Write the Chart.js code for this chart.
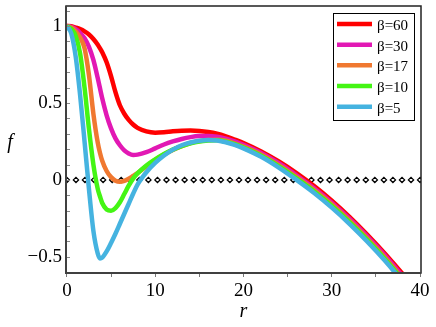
<!DOCTYPE html>
<html><head><meta charset="utf-8">
<script src="https://cdn.jsdelivr.net/npm/chart.js@4/dist/chart.umd.min.js"></script>
<style>html,body{margin:0;padding:0;background:#fff;overflow:hidden}</style>
</head><body>
<canvas id="c" width="436" height="327"></canvas>
<script>
// ---- data ----
const rValues = [0,0.5,1,1.5,2,2.5,3,3.5,3.75,4,4.5,5,5.5,6,6.5,7,7.5,8,9,10,11,12,13,14,15,16,17,18,19,20,22,24,26,28,30,32,34,36,38,39];
const fBeta60 = [1,0.998,0.99,0.98,0.965,0.945,0.915,0.878,0.855,0.83,0.765,0.675,0.57,0.485,0.43,0.39,0.36,0.338,0.315,0.307,0.31,0.316,0.32,0.321,0.318,0.311,0.3,0.283,0.262,0.24,0.185,0.12,0.045,-0.04,-0.135,-0.24,-0.355,-0.478,-0.61,-0.68];
const fBeta30 = [1,0.995,0.98,0.955,0.92,0.865,0.78,0.66,0.595,0.53,0.42,0.335,0.27,0.225,0.192,0.172,0.162,0.164,0.18,0.205,0.23,0.25,0.266,0.278,0.285,0.286,0.281,0.268,0.25,0.228,0.175,0.108,0.03,-0.055,-0.148,-0.252,-0.367,-0.49,-0.625,-0.695];
const fBeta17 = [1,0.99,0.965,0.925,0.855,0.68,0.43,0.24,0.175,0.125,0.058,0.018,-0.005,-0.012,-0.006,0.008,0.026,0.045,0.088,0.13,0.165,0.195,0.22,0.24,0.252,0.26,0.261,0.254,0.237,0.216,0.164,0.096,0.018,-0.066,-0.16,-0.265,-0.38,-0.504,-0.64,-0.71];
const fBeta10 = [1,0.98,0.935,0.82,0.6,0.33,0.1,-0.06,-0.108,-0.15,-0.192,-0.2,-0.183,-0.145,-0.092,-0.038,0.008,0.042,0.093,0.133,0.168,0.197,0.22,0.238,0.25,0.256,0.258,0.248,0.232,0.21,0.157,0.088,0.01,-0.075,-0.17,-0.275,-0.39,-0.514,-0.65,-0.72];
const fBeta5  = [1,0.95,0.8,0.55,0.25,-0.06,-0.33,-0.48,-0.51,-0.505,-0.465,-0.41,-0.35,-0.285,-0.22,-0.155,-0.09,-0.03,0.05,0.11,0.158,0.197,0.225,0.243,0.254,0.259,0.256,0.245,0.228,0.205,0.15,0.08,0.0,-0.085,-0.18,-0.285,-0.4,-0.524,-0.66,-0.73];
const seriesLabels = ['β=60','β=30','β=17','β=10','β=5'];
const zeroLineR = [0,1.03,2.05,3.08,4.10,5.13,6.15,7.18,8.21,9.23,10.26,11.28,12.31,13.33,14.36,15.38,16.41,17.44,18.46,19.49,20.51,21.54,22.56,23.59,24.62,25.64,26.67,27.69,28.72,29.74,30.77,31.79,32.82,33.85,34.87,35.90,36.92,37.95,38.97,40];
const xTickValues = [0,5,10,15,20,25,30,35,40];
const xTickLabels = ['0','','10','','20','','30','','40'];
const yTickValues = [-0.5,0,0.5,1];
const yTickLabels = ['\u22120.5','0','0.5','1'];
const yMinorTicks = [-0.6,-0.5,-0.4,-0.3,-0.2,-0.1,0,0.1,0.2,0.3,0.4,0.5,0.6,0.7,0.8,0.9,1,1.1];

const colors = ['#ff0000','#e218b4','#f07830','#44f514','#45b3e0'];
const serif = "'Liberation Serif','Times New Roman',serif";

const seriesValues = [fBeta60,fBeta30,fBeta17,fBeta10,fBeta5];
const datasets = seriesValues.map((vals,i)=>({
  label: seriesLabels[i],
  data: rValues.map((r,j)=>({x:r,y:vals[j]})),
  showLine: true,
  borderColor: colors[i],
  backgroundColor: colors[i],
  borderWidth: 4.5,
  pointRadius: 0,
  fill: false,
  cubicInterpolationMode: 'monotone',
  order: 5 - i
}));
datasets.push({
  label: '',
  data: zeroLineR.map(r=>({x:r,y:0})),
  showLine: false,
  pointStyle: 'rectRot',
  pointRadius: 2.6,
  pointBackgroundColor: '#fff',
  pointBorderColor: '#000',
  pointBorderWidth: 1.3,
  order: 10
});

const decor = {
  id: 'decor',
  afterDatasetsDraw(chart){
    const ctx = chart.ctx, a = chart.chartArea, ys = chart.scales.y;
    ctx.save();
    ctx.strokeStyle = '#888'; ctx.lineWidth = 1;
    yMinorTicks.forEach(v=>{
      const p = Math.round(ys.getPixelForValue(v))+0.5;
      ctx.beginPath(); ctx.moveTo(a.left, p); ctx.lineTo(a.left+4, p); ctx.stroke();
    });
    ctx.strokeStyle = '#222'; ctx.lineWidth = 1.5;
    ctx.strokeRect(a.left, a.top, a.right-a.left, a.bottom-a.top);
    ctx.strokeStyle = '#404040'; ctx.lineWidth = 2;
    ctx.beginPath(); ctx.moveTo(a.left, a.top); ctx.lineTo(a.left, a.bottom); ctx.lineTo(a.right, a.bottom); ctx.stroke();
    ctx.fillStyle = '#000'; ctx.font = "italic 20px " + serif;
    ctx.textAlign = 'center'; ctx.textBaseline = 'middle';
    ctx.fillText('f', 10, 143);
    const bx = 333, by = 13, bw = 81, bh = 107;
    ctx.fillStyle = '#fff'; ctx.fillRect(bx, by, bw, bh);
    ctx.strokeStyle = '#000'; ctx.lineWidth = 1;
    ctx.strokeRect(bx+0.5, by+0.5, bw, bh);
    const rowY = [24, 44.7, 65.3, 86, 106.7];
    ctx.font = "15px " + serif; ctx.textAlign = 'left'; ctx.textBaseline = 'middle';
    for (let i=0;i<5;i++){
      const ds = chart.data.datasets[i];
      ctx.strokeStyle = ds.borderColor; ctx.lineWidth = 4.5;
      ctx.beginPath(); ctx.moveTo(337, rowY[i]); ctx.lineTo(372, rowY[i]); ctx.stroke();
      ctx.fillStyle = '#000';
      ctx.fillText(ds.label, 377, rowY[i]+2);
    }
    ctx.restore();
  }
};

new Chart(document.getElementById('c'), {
  type: 'scatter',
  data: { datasets },
  options: {
    responsive: false, animation: false,
    layout: { padding: { left: 0, right: 15, top: 6, bottom: 0 } },
    plugins: { legend: { display: false }, tooltip: { enabled: false } },
    scales: {
      x: {
        type: 'linear', min: -0.1, max: 40.1,
        afterBuildTicks: s => { s.ticks = xTickValues.map(v=>({value:v})); },
        afterFit: s => { s.height = 54; s.paddingLeft = 0; s.paddingRight = 0; },
        ticks: { autoSkip: false, maxRotation: 0, padding: 3, color: '#000',
          font: { family: serif, size: 19 },
          callback: v => { const k = xTickValues.indexOf(v); return k >= 0 ? xTickLabels[k] : ''; } },
        grid: { drawOnChartArea: false, drawTicks: true, tickLength: 4, color: '#777', lineWidth: 1 },
        border: { display: false },
        title: { display: true, text: 'r', color: '#000', font: { family: serif, size: 20, style: 'italic' }, padding: { top: 0, bottom: 3 } }
      },
      y: {
        type: 'linear', min: -0.605, max: 1.13,
        afterBuildTicks: s => { s.ticks = yTickValues.map(v=>({value:v})); },
        afterFit: s => { s.width = 66; s.paddingTop = 0; s.paddingBottom = 0; },
        ticks: { autoSkip: false, padding: 4, color: '#000',
          font: { family: serif, size: 19 },
          callback: v => { const k = yTickValues.indexOf(v); return k >= 0 ? yTickLabels[k] : ''; } },
        grid: { display: false, drawTicks: false },
        border: { display: false }
      }
    }
  },
  plugins: [decor]
});
</script>
</body></html>
